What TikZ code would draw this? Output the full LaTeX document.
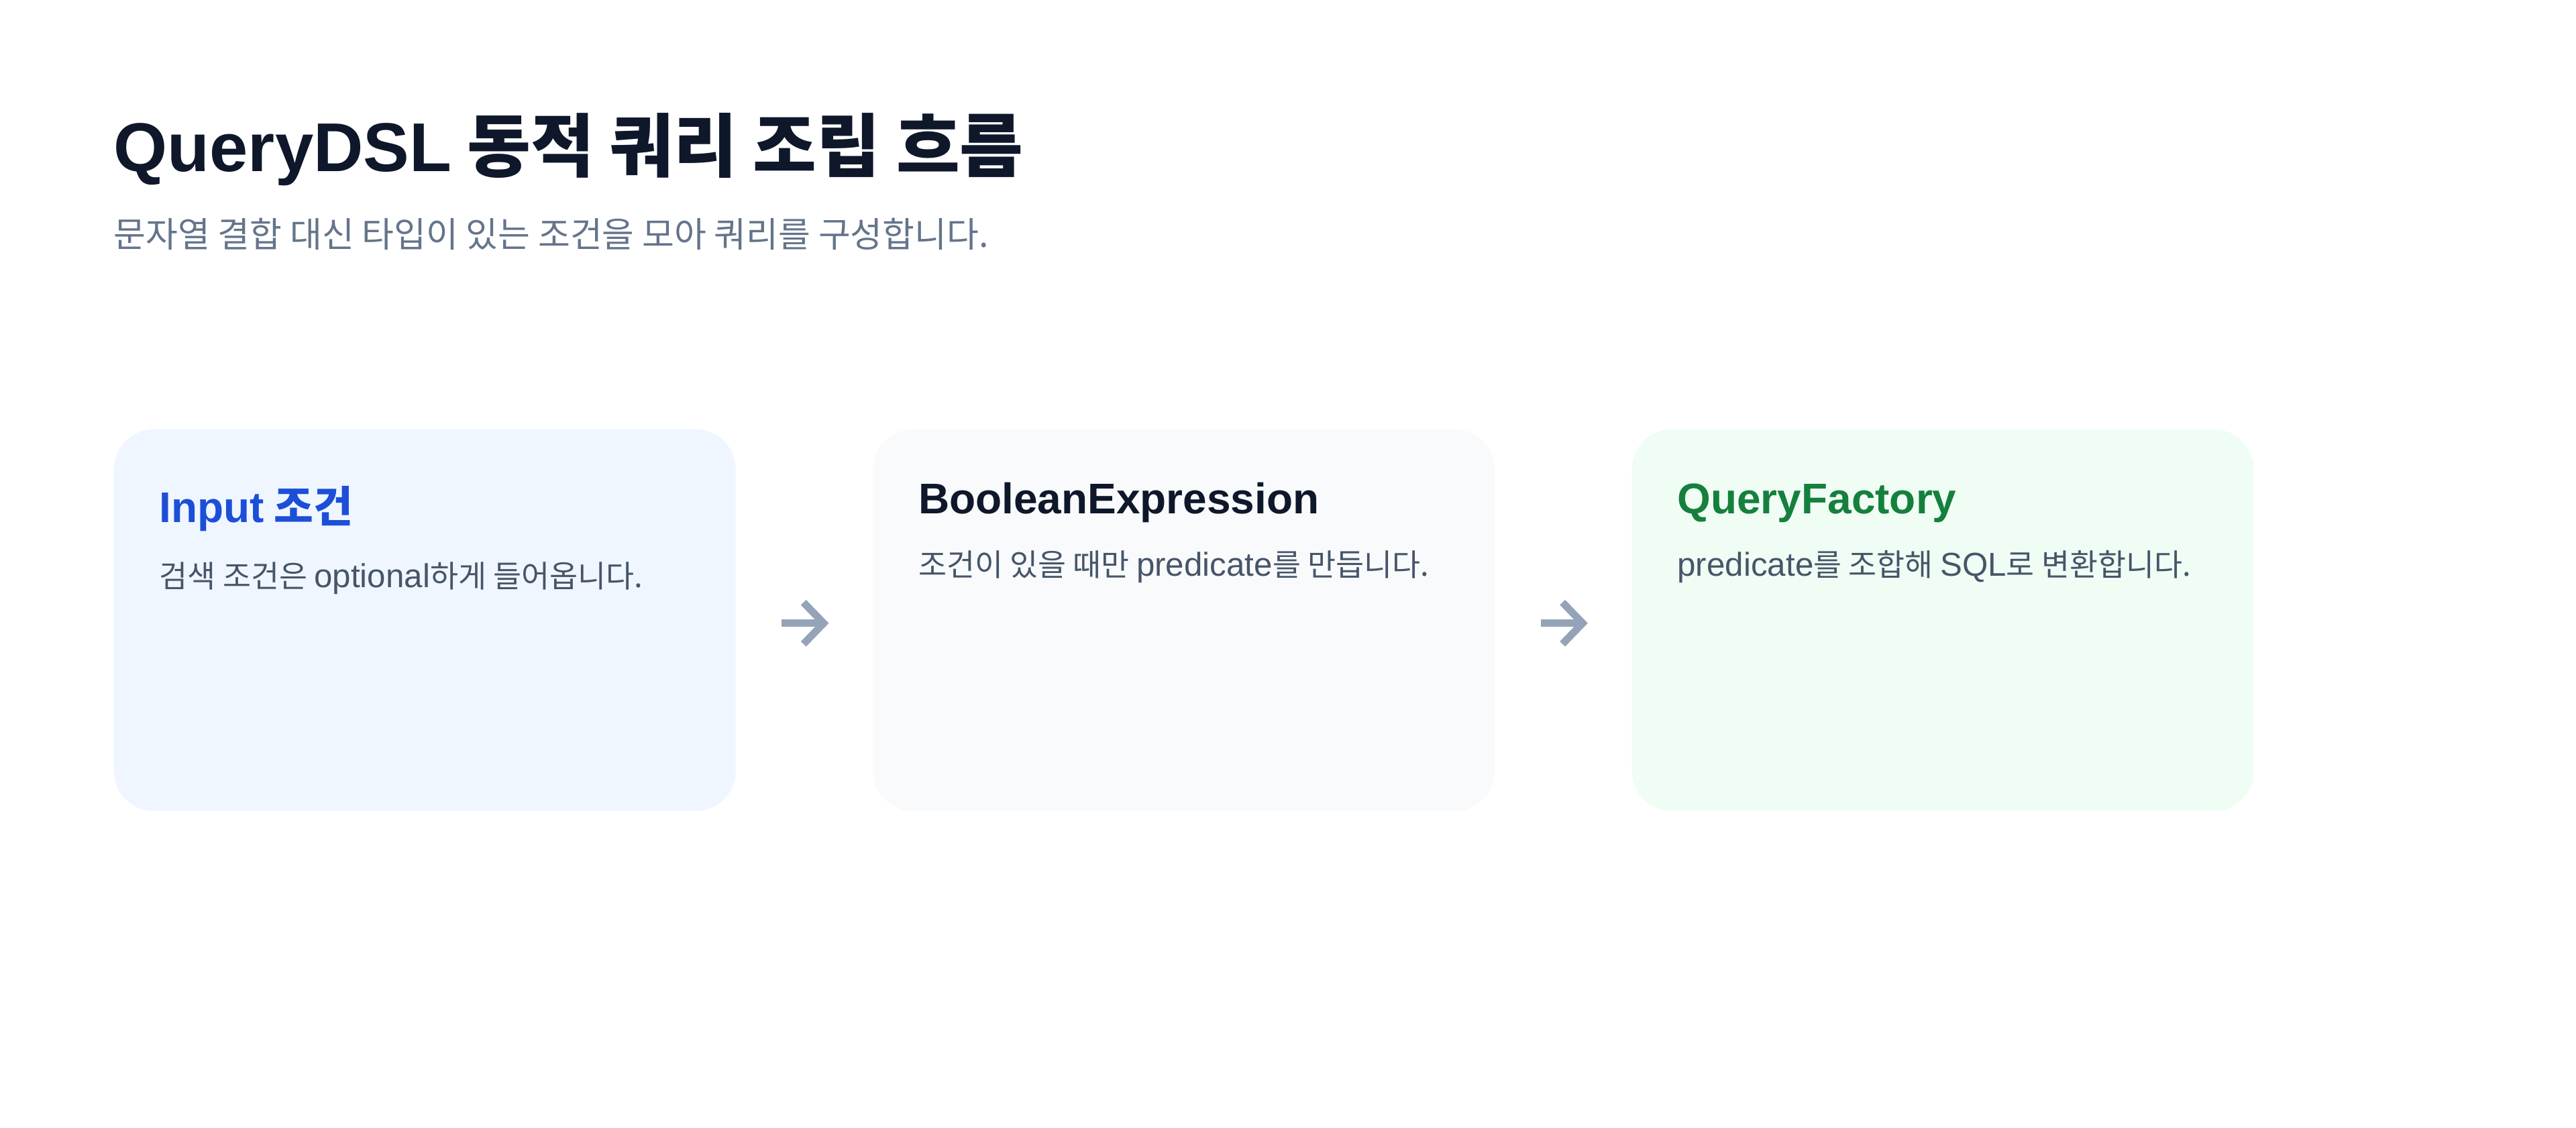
\documentclass[tikz,border=0pt]{standalone}
\usepackage{fontspec}
\setmainfont{Noto Sans CJK KR}
\newfontfamily\lat{Liberation Sans}
\newfontfamily\latr{Liberation Sans}[Scale=1.08]
\usepackage{xcolor}
\usetikzlibrary{arrows.meta, positioning}

\definecolor{ink}{HTML}{0F172A}
\definecolor{subgray}{HTML}{64748B}
\definecolor{descgray}{HTML}{475569}
\definecolor{arrowgray}{HTML}{94A3B8}
\definecolor{bluebg}{HTML}{EFF6FF}
\definecolor{bluetxt}{HTML}{1D4ED8}
\definecolor{slatebg}{HTML}{F8FAFC}
\definecolor{greenbg}{HTML}{F0FDF4}
\definecolor{greentxt}{HTML}{15803D}

\begin{document}
\begin{tikzpicture}[
  card/.style={anchor=north west, minimum width=9.27cm, minimum height=5.69cm,
               rounded corners=0.6cm, inner sep=0pt},
  head/.style={anchor=base west, inner sep=0pt,
               font=\fontsize{18.2}{22}\selectfont\bfseries},
  desc/.style={anchor=base west, inner sep=0pt, text=descgray,
               font=\fontsize{13}{15}\selectfont},
  flow/.style={draw=arrowgray, line width=0.11cm,
               -{Straight Barb[length=0.3cm,width=0.62cm]}}
]
  \fill[white] (0,0) rectangle (38.4,-16.8);
  \useasboundingbox (0,0) rectangle (38.4,-16.8);

  % title
  \node[anchor=base west, inner sep=0pt, text=ink,
        font=\fontsize{29.3}{34}\selectfont\bfseries] (ttl) at (1.69,-2.55)
        {{\lat QueryDSL} 동적 쿼리 조립 흐름};
  \node[anchor=base west, inner sep=0pt, text=subgray,
        font=\fontsize{14.8}{17}\selectfont] (sub) at (1.69,-3.68)
        {문자열 결합 대신 타입이 있는 조건을 모아 쿼리를 구성합니다.};

  % cards
  \node[card, fill=bluebg] (inp) at (1.69,-6.39) {};
  \node[card, fill=slatebg, right=2.03cm of inp] (bool) {};
  \node[card, fill=greenbg, right=2.03cm of bool] (fac) {};

  \node[head, text=bluetxt] (inph) at ([shift={(0.68,-1.39)}]inp.north west)
        {{\lat Input} 조건};
  \node[desc] (inpd) at ([shift={(0.68,-2.36)}]inp.north west)
        {검색 조건은 {\latr optional}하게 들어옵니다.};

  \node[head, text=ink] (boolh) at ([shift={(0.68,-1.26)}]bool.north west)
        {\lat BooleanExpression};
  \node[desc] (boold) at ([shift={(0.68,-2.19)}]bool.north west)
        {조건이 있을 때만 {\latr predicate}를 만듭니다.};

  \node[head, text=greentxt] (fach) at ([shift={(0.68,-1.26)}]fac.north west)
        {\lat QueryFactory};
  \node[desc] (facd) at ([shift={(0.68,-2.19)}]fac.north west)
        {{\latr predicate}를 조합해 {\latr SQL}로 변환합니다.};

  % arrows
  \draw[flow] ([shift={(0.68,-0.045)}]inp.east) -- ([shift={(-0.65,-0.045)}]bool.west);
  \draw[flow] ([shift={(0.68,-0.045)}]bool.east) -- ([shift={(-0.65,-0.045)}]fac.west);
\end{tikzpicture}
\end{document}
